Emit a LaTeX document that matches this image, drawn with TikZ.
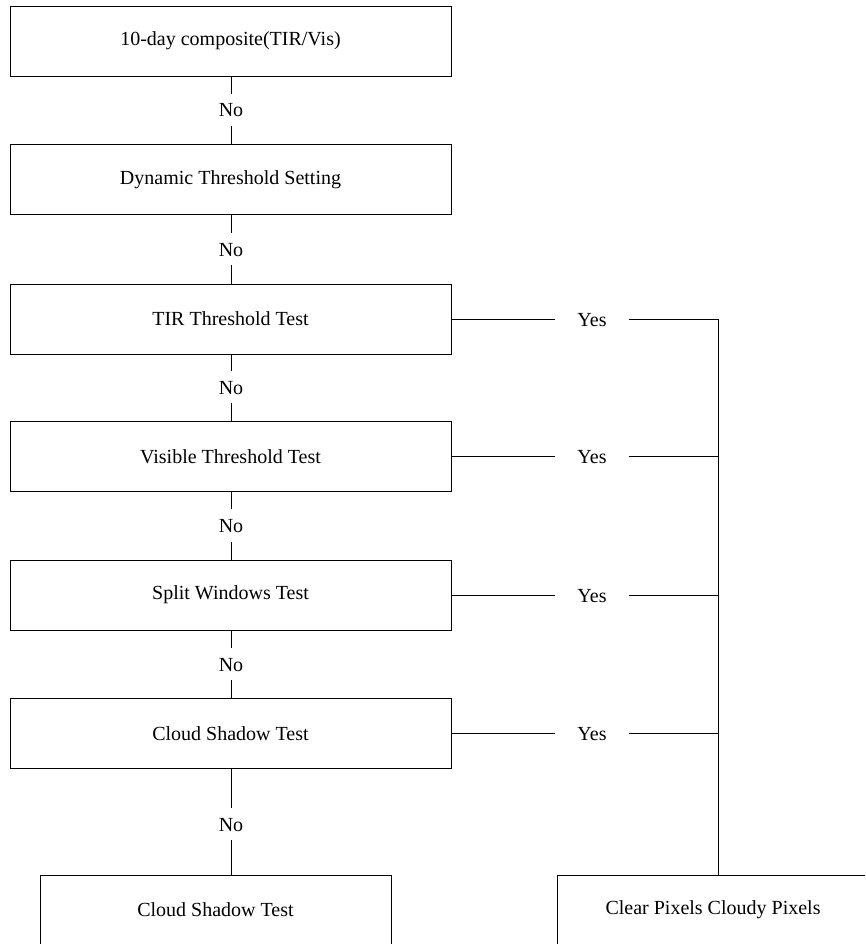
\documentclass[tikz,border=0pt]{standalone}
\usepackage{fontspec}
\setmainfont{Liberation Serif}
\begin{document}
\begin{tikzpicture}[x=1pt,y=-1pt,
  line width=0.8pt,
  box/.style={draw, minimum width=441pt, minimum height=70pt, inner sep=0pt,
    font=\fontsize{20}{24}\selectfont},
  endbox/.style={box, minimum width=#1},
  nolbl/.style={inner xsep=4pt, inner ysep=9pt, text height=14pt, text depth=0pt,
    font=\fontsize{20}{24}\selectfont},
  yeslbl/.style={inner xsep=22pt, inner ysep=4pt, text height=14pt, text depth=0pt,
    font=\fontsize{20}{24}\selectfont}
]
\useasboundingbox (0,0) rectangle (865,944);
\clip (0,0) rectangle (865,944);

% main column
\node[box] (b1) at (230.5,41)    {10-day composite(TIR/Vis)};
\node[box] (b2) at (230.5,179.5) {Dynamic Threshold Setting};
\node[box] (b3) at (230.5,319)   {TIR Threshold Test};
\node[box] (b4) at (230.5,456.5) {Visible Threshold Test};
\node[box] (b5) at (230.5,595)   {Split Windows Test};
\node[box] (b6) at (230.5,733.5) {Cloud Shadow Test};

% bottom boxes
\node[endbox=351pt] (b7) at (215.5,910) {Cloud Shadow Test};
\node[endbox=312pt] (out) at (713,910) {Clear Pixels Cloudy Pixels};

% No labels
\node[nolbl] (n1) at (231,110)   {No};
\node[nolbl] (n2) at (231,249)   {No};
\node[nolbl] (n3) at (231,387)   {No};
\node[nolbl] (n4) at (231,525.5) {No};
\node[nolbl] (n5) at (231,664)   {No};
\node[nolbl] (n6) at (231,824)   {No};

\draw (b1.south -| n1) -- (n1); \draw (n1) -- (b2.north -| n1);
\draw (b2.south -| n2) -- (n2); \draw (n2) -- (b3.north -| n2);
\draw (b3.south -| n3) -- (n3); \draw (n3) -- (b4.north -| n3);
\draw (b4.south -| n4) -- (n4); \draw (n4) -- (b5.north -| n4);
\draw (b5.south -| n5) -- (n5); \draw (n5) -- (b6.north -| n5);
\draw (b6.south -| n6) -- (n6); \draw (n6) -- (b7.north -| n6);

% Yes branches
\coordinate (v3) at (718,319);
\coordinate (v4) at (718,456.5);
\coordinate (v5) at (718,595);
\coordinate (v6) at (718,733.5);
\node[yeslbl] (y3) at (592,319)   {Yes};
\node[yeslbl] (y4) at (592,456.5) {Yes};
\node[yeslbl] (y5) at (592,595)   {Yes};
\node[yeslbl] (y6) at (592,733.5) {Yes};

\draw (b3.east) -- (y3); \draw (y3) -- (v3);
\draw (b4.east) -- (y4); \draw (y4) -- (v4);
\draw (b5.east) -- (y5); \draw (y5) -- (v5);
\draw (b6.east) -- (y6); \draw (y6) -- (v6);

\draw (v3) -- (v4) -- (v5) -- (v6) -- (v6 |- out.north);
\end{tikzpicture}
\end{document}
